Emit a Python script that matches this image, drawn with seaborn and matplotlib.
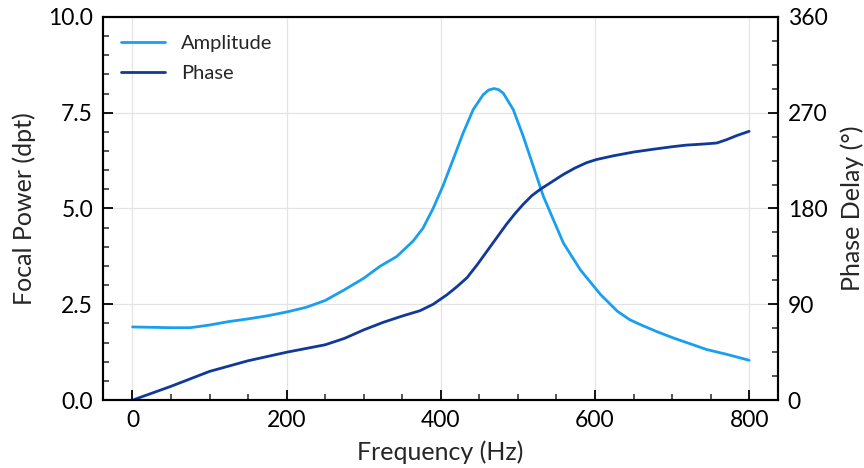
import matplotlib
matplotlib.use("Agg")
import matplotlib.pyplot as plt
import seaborn as sns
import pandas as pd
from matplotlib.ticker import MultipleLocator
from matplotlib.lines import Line2D

# Data
amp_freq = [0, 25, 50, 75, 100, 125, 150, 175, 200, 225, 250, 275, 300, 321, 343,
            364, 377, 390, 403, 416, 429, 442, 455, 462, 469, 475, 481, 494, 507,
            520, 533, 546, 559, 581, 607, 629, 645, 659, 680, 702, 725, 745, 770,
            800]
amp_vals = [1.91, 1.90, 1.89, 1.89, 1.96, 2.05, 2.12, 2.20, 2.30, 2.42, 2.60, 2.88,
            3.18, 3.49, 3.75, 4.15, 4.49, 5.00, 5.60, 6.28, 6.97, 7.58, 7.97, 8.09,
            8.13, 8.10, 8.01, 7.58, 6.88, 6.10, 5.32, 4.71, 4.10, 3.40, 2.76, 2.32,
            2.10, 1.97, 1.79, 1.62, 1.46, 1.32, 1.20, 1.04]

ph_freq = [0, 25, 50, 75, 100, 125, 150, 175, 200, 225, 250, 275, 300, 325, 350,
           373, 390, 408, 420, 434, 447, 460, 472, 485, 496, 507, 518, 529, 544,
           559, 574, 589, 602, 624, 650, 675, 700, 718, 740, 758, 771, 784, 800]
ph_vals = [0, 6.5, 13, 20, 27, 32, 37, 41, 45, 48.5, 52, 58, 66, 73, 79, 84, 90,
           99, 106, 115, 127, 140, 152, 165, 175, 184, 192, 198, 205, 212, 218,
           223, 226, 229.5, 233, 235.6, 238, 239.5, 240.5, 241.5, 244.7, 248.5,
           252.5]

xticks = [0, 200, 400, 600, 800]
yticks_left = [0.0, 2.5, 5.0, 7.5, 10.0]
yticks_right = [0, 90, 180, 270, 360]

amp_color = "#1a9ff0"
ph_color = "#11399a"

sns.set_theme(style="white")
plt.rcParams['font.family'] = ['Lato', 'DejaVu Sans']

df_amp = pd.DataFrame({"Frequency": amp_freq, "Amplitude": amp_vals})
df_ph = pd.DataFrame({"Frequency": ph_freq, "Phase": ph_vals})

fig = plt.figure(figsize=(8.64, 4.68), dpi=100)
ax = fig.add_axes([0.119, 0.145, 0.7815, 0.819])
ax2 = ax.twinx()

sns.lineplot(data=df_amp, x="Frequency", y="Amplitude", ax=ax, color=amp_color, lw=2)
sns.lineplot(data=df_ph, x="Frequency", y="Phase", ax=ax2, color=ph_color, lw=2)

ax.set_xlim(-38.5, 837.5)
ax.set_ylim(0, 10)
ax2.set_ylim(0, 360)

ax.set_xticks(xticks)
ax.set_yticks(yticks_left)
ax.set_yticklabels([f"{v:.1f}" for v in yticks_left])
ax2.set_yticks(yticks_right)
ax.xaxis.set_minor_locator(MultipleLocator(50))
ax.yaxis.set_minor_locator(MultipleLocator(0.5))
ax2.yaxis.set_minor_locator(MultipleLocator(22.5))

ax.grid(True, which="major", color="#e4e4e4", lw=0.9)
ax2.grid(False)
ax.set_axisbelow(True)

for a in (ax, ax2):
    for s in a.spines.values():
        s.set_color("black")
        s.set_linewidth(1.5)

ax.tick_params(axis="both", which="major", direction="in", length=7, width=1.3,
               labelsize=16.5, pad=7, colors="black", left=True, bottom=True,
               right=False, top=False)
ax.tick_params(axis="both", which="minor", direction="in", length=4, width=1.1,
               left=True, bottom=True, right=False, top=False)
ax2.tick_params(axis="y", which="major", direction="in", length=7, width=1.3,
                labelsize=16.5, pad=7, colors="black", right=True, left=False)
ax2.tick_params(axis="y", which="minor", direction="in", length=4, width=1.1,
                right=True, left=False)

ax.set_xlabel("Frequency (Hz)", fontsize=18, labelpad=7)
ax.set_ylabel("Focal Power (dpt)", fontsize=18, labelpad=9)
ax2.set_ylabel("Phase Delay (°)", fontsize=18, labelpad=9)

handles = [Line2D([], [], color=amp_color, lw=2), Line2D([], [], color=ph_color, lw=2)]
ax.legend(handles, ["Amplitude", "Phase"], loc="upper left", frameon=False,
          fontsize=14.5, handlelength=2.2, handletextpad=0.8, labelspacing=0.62,
          borderaxespad=0.5)

fig.savefig("out.png", dpi=100)
